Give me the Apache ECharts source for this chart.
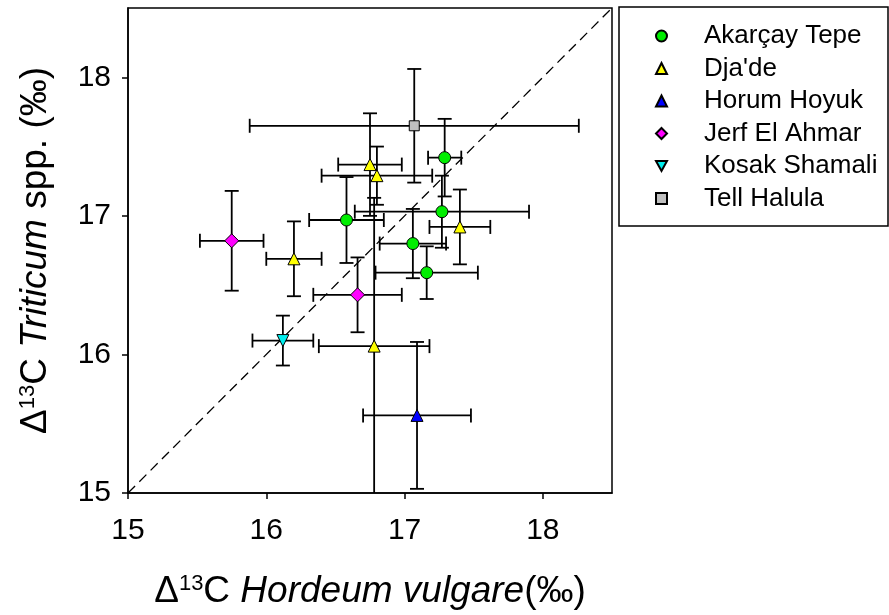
<!DOCTYPE html>
<html>
<head>
<meta charset="utf-8">
<script src="https://cdn.jsdelivr.net/npm/echarts@6/dist/echarts.min.js"></script>
<style>
  html, body { margin: 0; padding: 0; background: #fff; }
  #chart { width: 889px; height: 615px; }
</style>
</head>
<body>
<div id="chart"></div>
<script>
// each row: [Hordeum d13C, Triticum d13C, x error, y error]
const akarcay = [
  [16.58, 16.97, 0.27, 0.31],
  [17.29, 17.42, 0.12, 0.28],
  [17.27, 17.03, 0.63, 0.26],
  [17.06, 16.80, 0.24, 0.25],
  [17.16, 16.59, 0.37, 0.19]
]
const djade = [
  [16.20, 16.69, 0.20, 0.27],
  [16.75, 17.37, 0.23, 0.37],
  [16.80, 17.29, 0.40, 0.21],
  [17.40, 16.92, 0.22, 0.27],
  [16.78, 16.06, 0.40, 1.07]
]
const horum = [[17.09, 15.56, 0.39, 0.53]]
const jerf = [
  [15.75, 16.82, 0.23, 0.36],
  [16.66, 16.43, 0.32, 0.27]
]
const kosak = [[16.12, 16.10, 0.22, 0.18]]
const halula = [[17.07, 17.65, 1.19, 0.41]]

const siteNames = ['Akarçay Tepe', "Dja'de", 'Horum Hoyuk', 'Jerf El Ahmar', 'Kosak Shamali', 'Tell Halula']
const tickValues = [15, 16, 17, 18]
const oneToOne = [[15, 15], [18.5, 18.5]]

const font = 'Liberation Sans, Arial, sans-serif'
const downTriangle = 'path://M0,0L20,0L10,18Z'
let chart = echarts.init(document.getElementById('chart'))

function siteSeries(name, data, symbol, color, size) {
  return {
    name: name,
    type: 'scatter',
    data: data.map(r => [r[0], r[1]]),
    symbol: symbol,
    symbolSize: size,
    itemStyle: { color: color, borderColor: '#000', borderWidth: 1, opacity: 1 },
    z: 5
  }
}

// error bars for all sites, drawn under the markers
function renderError(params, api) {
  const x = api.value(0), y = api.value(1), xe = api.value(2), ye = api.value(3)
  const l = api.coord([x - xe, y]), r = api.coord([x + xe, y])
  const t = api.coord([x, y + ye]), b = api.coord([x, y - ye])
  const cap = 7
  const style = { stroke: '#000', lineWidth: 1.8 }
  const line = (x1, y1, x2, y2) => ({ type: 'line', shape: { x1, y1, x2, y2 }, style })
  return {
    type: 'group',
    children: [
      line(l[0], l[1], r[0], r[1]),
      line(l[0], l[1] - cap, l[0], l[1] + cap),
      line(r[0], r[1] - cap, r[0], r[1] + cap),
      line(t[0], t[1], b[0], b[1]),
      line(t[0] - cap, t[1], t[0] + cap, t[1]),
      line(b[0] - cap, b[1], b[0] + cap, b[1])
    ]
  }
}

const allRows = [].concat(akarcay, djade, horum, jerf, kosak, halula)

const titleRich = {
  d: { fontSize: 37, fontFamily: font, color: '#000' },
  s: { fontSize: 22, fontFamily: font, color: '#000', verticalAlign: 'top' },
  n: { fontSize: 37, fontFamily: font, color: '#000' },
  i: { fontSize: 37, fontFamily: font, color: '#000', fontStyle: 'italic' }
}

const option = {
  animation: false,
  textStyle: { fontFamily: font },
  grid: { left: 128, top: 8, width: 484, height: 485, show: true, borderColor: '#000', borderWidth: 1.5 },
  graphic: [{
    type: 'rect',
    shape: { x: 619, y: 7, width: 269, height: 219 },
    style: { fill: 'none', stroke: '#000', lineWidth: 1.5 }
  }],
  legend: {
    data: siteNames,
    orient: 'vertical',
    left: 650,
    top: 18,
    itemWidth: 11,
    itemHeight: 11,
    itemGap: 6.5,
    textStyle: { fontFamily: font, fontSize: 26, lineHeight: 26, color: '#000', padding: [0, 0, 0, 32] }
  },
  xAxis: {
    type: 'value', min: 15, max: 18.5, interval: 1,
    name: '{d|Δ}{s|13}{n|C }{i|Hordeum vulgare}{n|(‰)}',
    nameLocation: 'middle', nameGap: 80,
    nameTextStyle: { rich: titleRich },
    axisLine: { show: true, onZero: false, lineStyle: { color: '#000', width: 1.5 } },
    axisTick: { show: true, length: 6, customValues: tickValues, lineStyle: { color: '#000', width: 1.5 } },
    axisLabel: { fontSize: 30, color: '#000', margin: 23, customValues: tickValues },
    splitLine: { show: false }
  },
  yAxis: {
    type: 'value', min: 15, max: 18.5, interval: 1,
    name: '{d|Δ}{s|13}{n|C }{i|Triticum}{n| spp. (‰)}',
    nameLocation: 'middle', nameGap: 74, nameRotate: 90,
    nameTextStyle: { rich: titleRich },
    axisLine: { show: true, onZero: false, lineStyle: { color: '#000', width: 1.5 } },
    axisTick: { show: true, length: 6, customValues: tickValues, lineStyle: { color: '#000', width: 1.5 } },
    axisLabel: { fontSize: 30, color: '#000', margin: 17, customValues: tickValues },
    splitLine: { show: false }
  },
  series: [
    {
      name: '1:1',
      type: 'line',
      data: oneToOne,
      symbol: 'none',
      lineStyle: { color: '#000', width: 1.3, type: [10, 6] },
      z: 1
    },
    {
      name: 'errors',
      type: 'custom',
      data: allRows,
      encode: { x: 0, y: 1 },
      renderItem: renderError,
      clip: true,
      z: 2
    },
    siteSeries(siteNames[0], akarcay, 'circle', '#00ee00', 12),
    siteSeries(siteNames[1], djade, 'triangle', '#ffff00', 12),
    siteSeries(siteNames[2], horum, 'triangle', '#0000ff', 12),
    siteSeries(siteNames[3], jerf, 'diamond', '#ff00ff', 14),
    siteSeries(siteNames[4], kosak, downTriangle, '#00eeee', 12),
    siteSeries(siteNames[5], halula, 'rect', '#c0c0c0', 10)
  ]
}

chart.setOption(option)
</script>
</body>
</html>
